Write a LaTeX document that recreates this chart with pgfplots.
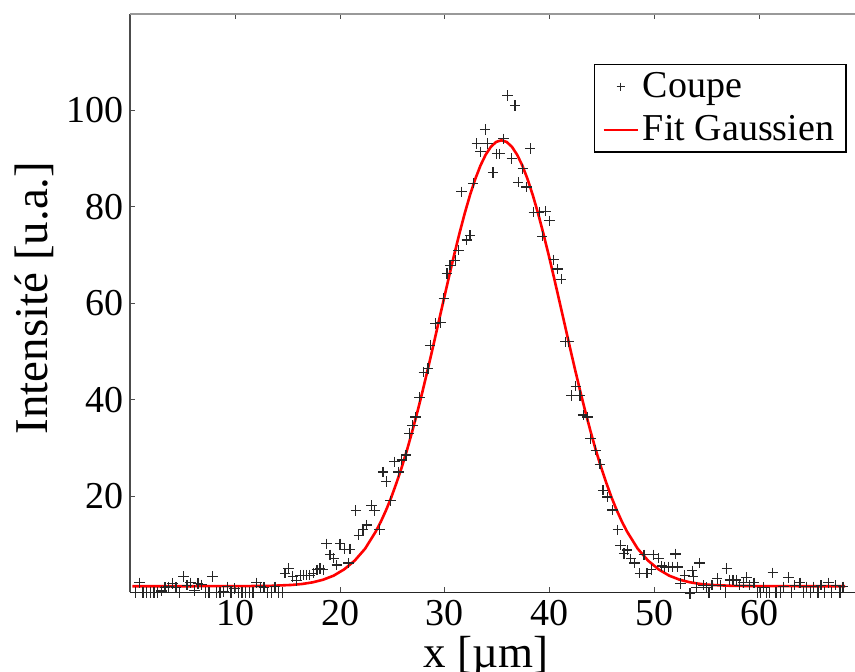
\documentclass[border=0pt]{standalone}
\usepackage{pgfplots}
\pgfplotsset{compat=1.18}
\usepackage{pgfplotstable}
\usepackage{fontspec}
\setmainfont{Liberation Serif}

\pgfplotstableread{
x y
0.5 0.0
0.85 2.0
1.2 0.0
1.55 0.0
1.9 0.0
2.25 0.0
2.6 0.0
2.95 0.3
3.3 1.0
3.65 1.2
4.0 1.9
4.35 1.0
4.7 0.0
5.05 3.3
5.4 1.5
5.75 2.0
6.1 0.4
6.45 1.9
6.8 1.6
7.15 0.0
7.5 0.0
7.85 3.3
8.2 0.0
8.55 0.0
8.9 0.2
9.25 1.2
9.6 0.0
9.95 0.8
10.3 0.0
10.65 0.0
11.0 0.0
11.35 0.0
11.7 0.0
12.05 2.0
12.4 1.2
12.75 1.0
13.1 0.0
13.45 0.0
13.8 1.2
14.15 0.0
14.5 0.0
14.75 4.0
15.1 5.0
15.5 3.3
15.85 2.5
16.2 3.6
16.5 3.6
16.8 3.6
17.1 3.6
17.45 4.0
17.8 4.7
18.1 5.0
18.4 4.7
18.7 10.1
19.05 7.8
19.4 7.1
19.7 5.7
20.0 10.1
20.4 9.0
20.8 6.1
20.95 9.0
21.5 17.0
21.8 11.9
22.2 13.1
22.55 14.0
23.0 18.1
23.3 17.0
23.75 13.1
24.1 25.0
24.4 23.0
24.8 19.0
25.2 27.1
25.6 25.0
25.9 27.5
26.3 28.5
26.6 33.0
26.9 34.7
27.2 36.4
27.6 40.5
28.0 45.7
28.4 46.5
28.6 51.3
29.1 55.8
29.6 56.0
29.9 61.0
30.2 66.2
30.5 67.9
31.0 68.9
31.3 71.0
31.6 83.1
32.1 73.1
32.4 74.1
32.7 84.9
33.05 93.1
33.4 91.4
33.85 96.0
34.07 93.1
34.6 87.1
34.97 91.0
35.2 91.0
35.6 94.1
36.0 103.1
36.4 90.0
36.7 101.0
37.0 85.1
37.45 87.9
37.8 84.1
38.15 92.1
38.5 78.9
39.0 78.9
39.3 73.9
39.6 79.1
40.0 77.1
40.4 69.0
40.75 67.1
41.1 65.0
41.5 52.0
41.8 52.0
42.1 40.9
42.5 42.8
42.9 40.9
43.2 36.8
43.6 36.4
43.9 31.9
44.4 29.5
44.8 26.6
45.1 21.2
45.5 19.8
46.0 17.1
46.5 13.0
46.75 9.8
47.1 8.1
47.4 8.8
47.75 7.0
48.1 6.1
48.6 4.0
49.0 7.8
49.3 4.0
49.7 4.8
49.9 7.8
50.4 7.1
50.7 5.5
51.0 5.3
51.35 5.3
51.7 5.3
52.0 8.0
52.2 5.3
52.5 1.9
52.9 3.6
53.4 -0.2
53.6 4.5
53.7 3.3
54.0 1.0
54.3 6.1
54.65 1.5
55.0 1.0
55.2 0.0
55.5 1.5
56.0 2.9
56.3 1.5
56.8 0.0
56.9 5.0
57.2 2.6
57.5 2.6
57.8 2.6
58.1 1.5
58.5 2.0
58.8 3.1
59.1 1.5
59.5 2.0
59.8 0.0
60.1 0.0
60.4 1.0
60.7 0.0
61.0 0.0
61.3 4.1
61.6 0.0
62.0 0.0
62.3 1.2
62.8 3.1
63.1 0.0
63.4 1.5
63.9 2.0
64.2 0.0
64.5 1.2
64.9 0.0
65.2 1.2
65.6 0.0
65.9 1.5
66.2 0.0
66.6 2.0
66.9 0.0
67.3 1.5
67.7 0.0
68.0 1.2
}\coupe

\pgfplotstableread{
x y
0.2 1.30
10.4 1.31
13.4 1.38
15.4 1.57
16.4 1.77
17.4 2.11
18.4 2.66
19.4 3.5
20.4 4.8
21.4 6.6
22.4 9.1
23.4 12.6
23.9 14.7
24.4 17.1
24.9 19.78
25.4 22.8
25.9 26.04
26.4 29.6
26.9 33.49
27.4 37.6
27.9 41.96
28.4 46.5
28.9 51.2
29.4 56.0
29.9 60.76
30.4 65.5
30.9 70.11
31.4 74.5
31.9 78.64
32.4 82.4
32.9 85.73
33.4 88.55
33.9 90.81
34.4 92.46
34.9 93.46
35.4 93.8
35.9 93.46
36.4 92.46
36.9 90.81
37.4 88.55
37.9 85.73
38.4 82.4
38.9 78.64
39.4 74.5
39.9 70.11
40.4 65.5
40.9 60.76
41.4 56.0
41.9 51.2
42.4 46.5
42.9 41.96
43.4 37.6
43.9 33.49
44.4 29.6
44.9 26.04
45.4 22.8
45.9 19.78
46.4 17.1
46.9 14.7
47.4 12.6
48.4 9.1
49.4 6.6
50.4 4.8
51.4 3.5
52.4 2.66
53.4 2.11
54.4 1.77
55.4 1.57
57.4 1.38
60.4 1.31
68.2 1.30
}\fit

\begin{document}
\begin{tikzpicture}
\path[use as bounding box] (-65.2pt,-39.75pt) rectangle (362.3pt,296.25pt);
\begin{axis}[
  at={(0,0)}, anchor=south west,
  scale only axis, width=362.3pt, height=289.25pt,
  xmin=0, xmax=69.14, ymin=0, ymax=120,
  axis x line*=bottom, axis y line*=left,
  x axis line style={-, black!85, line width=0.7pt},
  y axis line style={-, gray!60!black, line width=1pt},
  xtick={10,20,...,60}, ytick={20,40,...,100},
  tick align=inside,
  major tick length=2.5pt,
  tick style={black!70, line width=0.5pt},
  /pgf/number format/assume math mode=true,
  ticklabel style={font=\fontsize{19}{23}\selectfont},
  xticklabel style={inner sep=1pt, yshift=-2.5pt},
  yticklabel style={inner sep=1pt, xshift=-2pt},
  xlabel={x [µm]},
  ylabel={Intensité [u.a.]},
  xlabel style={font=\fontsize{22.5}{27}\selectfont, at={(axis description cs:0.4906,-0.129)}, anchor=base, inner sep=0pt},
  ylabel style={font=\fontsize{23.5}{28}\selectfont, at={(axis description cs:-0.114,0.509)}, anchor=base},
  clip=false,
  legend style={at={(axis description cs:0.9886,0.9136)}, anchor=north east,
    draw=black, line width=0.7pt, font=\fontsize{19}{23}\selectfont,
    inner xsep=4pt, inner ysep=2pt, row sep=3.5pt},
  legend cell align=left,
]
\addplot[only marks, mark=+, mark size=2.6pt, black!85, line width=0.6pt,
  legend image post style={mark size=2pt}] table[x=x,y=y] {\coupe};
\addlegendentry{Coupe}
\addplot[red, line width=1.3pt] table[x=x,y=y] {\fit};
\addlegendentry{Fit Gaussien}
\end{axis}
\begin{axis}[
  at={(0,0)}, anchor=south west,
  scale only axis, width=362.3pt, height=289.25pt,
  xmin=0, xmax=69.14, ymin=0, ymax=120,
  axis x line*=top, axis y line=none,
  x axis line style={-, gray!80, line width=1.3pt},
  xtick={10,20,...,60}, xticklabels={},
  tick align=inside, major tick length=2.5pt,
  tick style={black!70, line width=0.5pt},
]
\end{axis}
\end{tikzpicture}
\end{document}
